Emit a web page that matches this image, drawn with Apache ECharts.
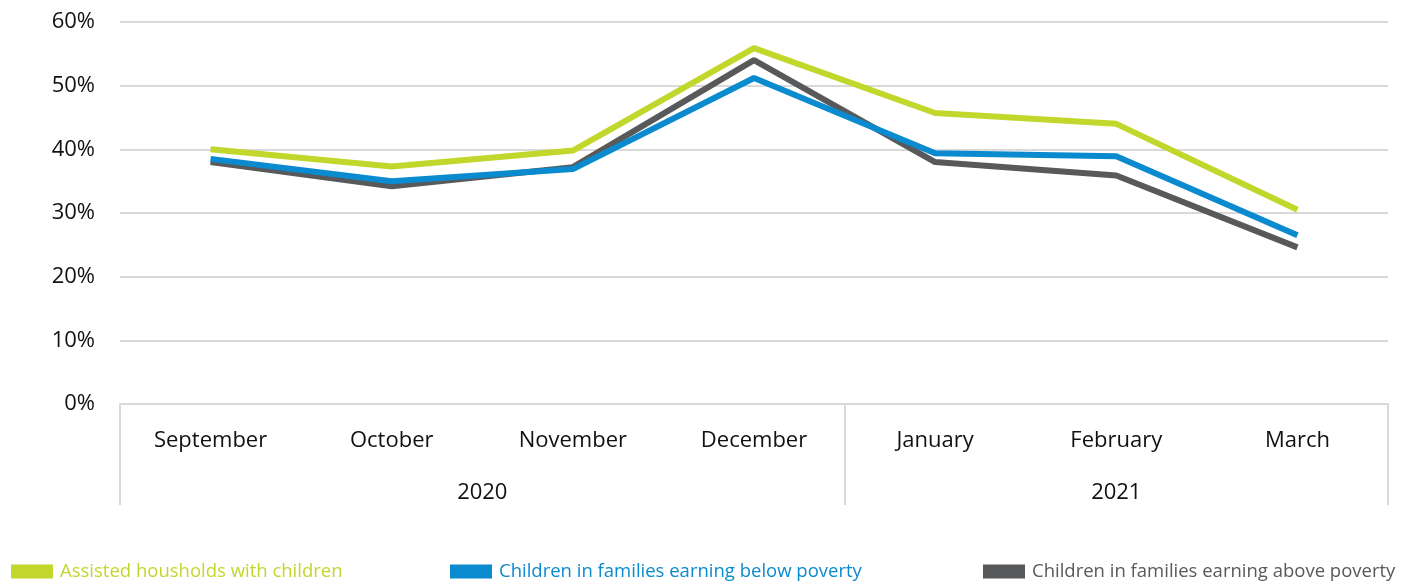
<!doctype html>
<html>
<head>
<meta charset="utf-8">
<title>Children share by month</title>
<style>
  html, body { margin: 0; padding: 0; background: #fff; }
  #main { width: 1414px; height: 584px; }
</style>
</head>
<body>
<div id="main"></div>
<script src="https://cdn.jsdelivr.net/npm/echarts@6/dist/echarts.min.js"></script>
<script>
var months = ['September', 'October', 'November', 'December', 'January', 'February', 'March'];
var years = ['2020', '2021'];
var monthsPerYear = [4, 3];

var assisted = [40, 37.3, 39.8, 55.9, 45.7, 44, 30.5];
var belowPoverty = [38.5, 35, 36.9, 51.2, 39.4, 38.9, 26.5];
var abovePoverty = [38, 34.2, 37.2, 54, 38, 35.9, 24.6];

var names = [
  'Assisted housholds with children',
  'Children in families earning below poverty',
  'Children in families earning above poverty'
];
var colors = ['#c2d72c', '#0a8bcf', '#58595b'];

// year separators and year label centres, in month units
var bounds = [0];
var centres = [];
monthsPerYear.forEach(function (n, i) {
  var start = bounds[bounds.length - 1];
  centres.push(start + n / 2);
  bounds.push(start + n);
});

var font = '"Open Sans", "Noto Sans", sans-serif';
var chart = echarts.init(document.getElementById('main'));

function makeLegend(i, left) {
  return {
    show: true,
    left: left,
    top: 557,
    icon: 'rect',
    itemWidth: 42,
    itemHeight: 14,
    itemGap: 0,
    selectedMode: false,
    data: [{ name: names[i], textStyle: { color: colors[i] } }],
    textStyle: { fontFamily: font, fontSize: 18.5, padding: [0, 0, 2, 2] }
  };
}

chart.setOption({
  animation: false,
  backgroundColor: '#fff',
  grid: { left: 120, right: 26, top: 22, bottom: 180 },
  legend: [makeLegend(0, 6), makeLegend(1, 445), makeLegend(2, 978)],
  xAxis: [
    {
      type: 'category',
      data: months,
      boundaryGap: true,
      axisLine: { show: true, lineStyle: { color: '#d9d9d9', width: 2 } },
      axisTick: { show: false },
      axisLabel: { color: '#111', fontFamily: font, fontSize: 22, margin: 26 }
    },
    {
      type: 'value',
      min: 0,
      max: months.length,
      position: 'bottom',
      axisLine: { show: false },
      splitLine: { show: false },
      axisTick: {
        show: true,
        customValues: bounds,
        length: 101,
        lineStyle: { color: '#d9d9d9', width: 2 }
      },
      axisLabel: {
        customValues: centres,
        color: '#111',
        fontFamily: font,
        fontSize: 22,
        margin: 78,
        formatter: function (v) {
          return years[centres.indexOf(v)];
        }
      }
    }
  ],
  yAxis: {
    type: 'value',
    min: 0,
    max: 60,
    interval: 10,
    axisLine: { show: false },
    axisTick: { show: false },
    splitLine: { lineStyle: { color: '#d9d9d9', width: 2 } },
    axisLabel: {
      color: '#111',
      fontFamily: font,
      fontSize: 22,
      margin: 25,
      formatter: '{value}%'
    }
  },
  series: [assisted, belowPoverty, abovePoverty].map(function (d, i) {
    return {
      name: names[i],
      type: 'line',
      xAxisIndex: 0,
      data: d,
      symbol: 'none',
      smooth: false,
      lineStyle: { color: colors[i], width: 6 },
      itemStyle: { color: colors[i] },
      z: 3 - i
    };
  }).reverse()
});

window.onresize = chart.resize;
</script>
</body>
</html>
